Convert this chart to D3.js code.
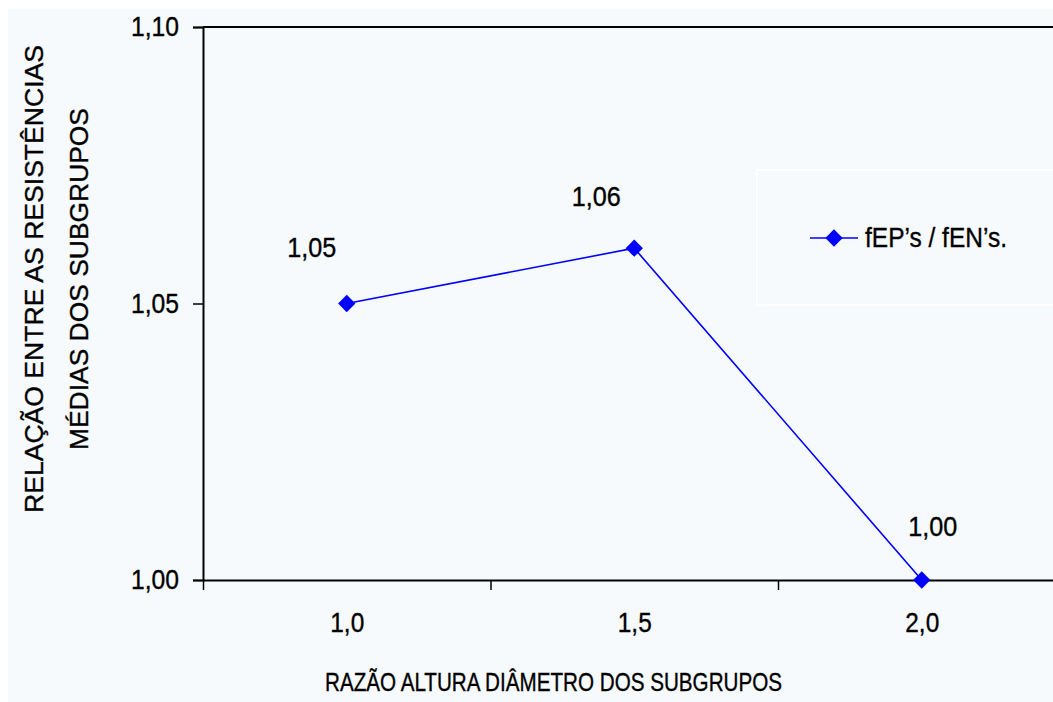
<!DOCTYPE html>
<html>
<head>
<meta charset="utf-8">
<script src="https://cdn.jsdelivr.net/npm/d3@7"></script>
<style>
  html, body { margin: 0; padding: 0; background: #ffffff; }
  svg { display: block; }
  text { font-family: "Liberation Sans", Arial, sans-serif; fill: #000; stroke: #000; stroke-width: 0.35px; }
</style>
</head>
<body>
<svg id="chart" width="1053" height="702"></svg>
<script>
// ---- data ----
const categories = [1.0, 1.5, 2.0];
const values = [1.05, 1.06, 1.00];
const yTicks = [1.00, 1.05, 1.10];
const seriesName = "fEP’s / fEN’s.";
const xTitle = "RAZÃO ALTURA DIÂMETRO DOS SUBGRUPOS";
const yTitle = ["RELAÇÃO ENTRE AS RESISTÊNCIAS", "MÉDIAS DOS SUBGRUPOS"];
// label placement offsets relative to each point (layout only)
const labelOffsets = [[-35, -47], [-38, -42], [11, -44]];

(function () {
const svg = d3.select("#chart");
const W = 1053, H = 702;
const bg = "#f7fafc";
const numSize = "27px";

svg.append("rect").attr("x", 8).attr("y", 9).attr("width", W).attr("height", H).attr("fill", bg);

const plotLeft = 203, plotTop = 27, plotBottom = 580;
const bandW = 287.5;
const x = d3.scaleLinear().domain([0.75, 2.25]).range([plotLeft, plotLeft + 3 * bandW]);
const y = d3.scaleLinear().domain([1.00, 1.10]).range([plotBottom, plotTop]);
const fmt2 = d => d3.format(".2f")(d).replace(".", ",");
const fmt1 = d => d3.format(".1f")(d).replace(".", ",");

// plot border top
svg.append("line").attr("x1", plotLeft).attr("x2", W + 20).attr("y1", plotTop).attr("y2", plotTop)
  .attr("stroke", "#000").attr("stroke-width", 2);

// y axis
const yAxis = svg.append("g").attr("transform", `translate(${plotLeft},0)`)
  .call(d3.axisLeft(y).tickValues(yTicks).tickFormat(fmt2).tickSize(10).tickPadding(14));
yAxis.select(".domain").attr("stroke", "#000").attr("stroke-width", 2);
yAxis.selectAll(".tick line").attr("stroke", "#000").attr("stroke-width", 1.5);
yAxis.selectAll("text").style("font-size", numSize).attr("fill", "#000")
  .attr("font-family", "Liberation Sans, Arial, sans-serif")
  .attr("textLength", 48).attr("lengthAdjust", "spacingAndGlyphs");

// x axis: minor ticks at category boundaries
const xAxisTicks = svg.append("g").attr("transform", `translate(0,${plotBottom})`)
  .call(d3.axisBottom(x).tickValues([0.75, 1.25, 1.75, 2.25]).tickFormat("").tickSize(10).tickSizeOuter(0));
xAxisTicks.select(".domain").attr("stroke", "#000").attr("stroke-width", 2);
xAxisTicks.selectAll(".tick line").attr("stroke", "#000").attr("stroke-width", 1.5);

// x axis labels
const xAxisLabels = svg.append("g").attr("transform", `translate(0,${plotBottom})`)
  .call(d3.axisBottom(x).tickValues(categories).tickFormat(fmt1).tickSize(0).tickPadding(33));
xAxisLabels.select(".domain").remove();
xAxisLabels.selectAll("text").style("font-size", numSize).attr("fill", "#000")
  .attr("font-family", "Liberation Sans, Arial, sans-serif")
  .attr("textLength", 34).attr("lengthAdjust", "spacingAndGlyphs");

// series line
const pts = categories.map((c, i) => ({ c, v: values[i], i }));
svg.append("path").datum(pts)
  .attr("d", d3.line().x(d => x(d.c)).y(d => y(d.v)))
  .attr("fill", "none").attr("stroke", "#0000ff").attr("stroke-width", 1.6);

const diamond = d3.symbol().type(d3.symbolSquare).size(150);
svg.selectAll(".pt").data(pts).enter().append("path")
  .attr("d", diamond)
  .attr("transform", d => `translate(${x(d.c)},${y(d.v)}) rotate(45)`)
  .attr("fill", "#0000ff");

svg.selectAll(".lbl").data(pts).enter().append("text")
  .attr("x", d => x(d.c) + labelOffsets[d.i][0])
  .attr("y", d => y(d.v) + labelOffsets[d.i][1])
  .attr("text-anchor", "middle")
  .style("font-size", numSize)
  .attr("textLength", 49).attr("lengthAdjust", "spacingAndGlyphs")
  .text(d => fmt2(d.v));

// legend
svg.append("rect").attr("x", 757).attr("y", 170).attr("width", 320).attr("height", 135)
  .attr("fill", bg).attr("stroke", "#ffffff").attr("stroke-width", 2);
svg.append("line").attr("x1", 810).attr("x2", 858).attr("y1", 238).attr("y2", 238)
  .attr("stroke", "#0000ff").attr("stroke-width", 1.6);
svg.append("path").attr("d", diamond).attr("transform", "translate(834,238) rotate(45)").attr("fill", "#0000ff");
svg.append("text").attr("x", 865).attr("y", 247).style("font-size", "27px")
  .attr("textLength", 142).attr("lengthAdjust", "spacingAndGlyphs").text(seriesName);

// axis titles
svg.append("text").attr("x", 553.5).attr("y", 691).attr("text-anchor", "middle")
  .style("font-size", "25px").attr("textLength", 457).attr("lengthAdjust", "spacingAndGlyphs")
  .text(xTitle);

svg.append("text").attr("transform", "translate(43,279) rotate(-90)").attr("text-anchor", "middle")
  .style("font-size", "26px").attr("textLength", 468).attr("lengthAdjust", "spacingAndGlyphs")
  .text(yTitle[0]);
svg.append("text").attr("transform", "translate(88,279) rotate(-90)").attr("text-anchor", "middle")
  .style("font-size", "26px").attr("textLength", 342).attr("lengthAdjust", "spacingAndGlyphs")
  .text(yTitle[1]);
})();
</script>
</body>
</html>
